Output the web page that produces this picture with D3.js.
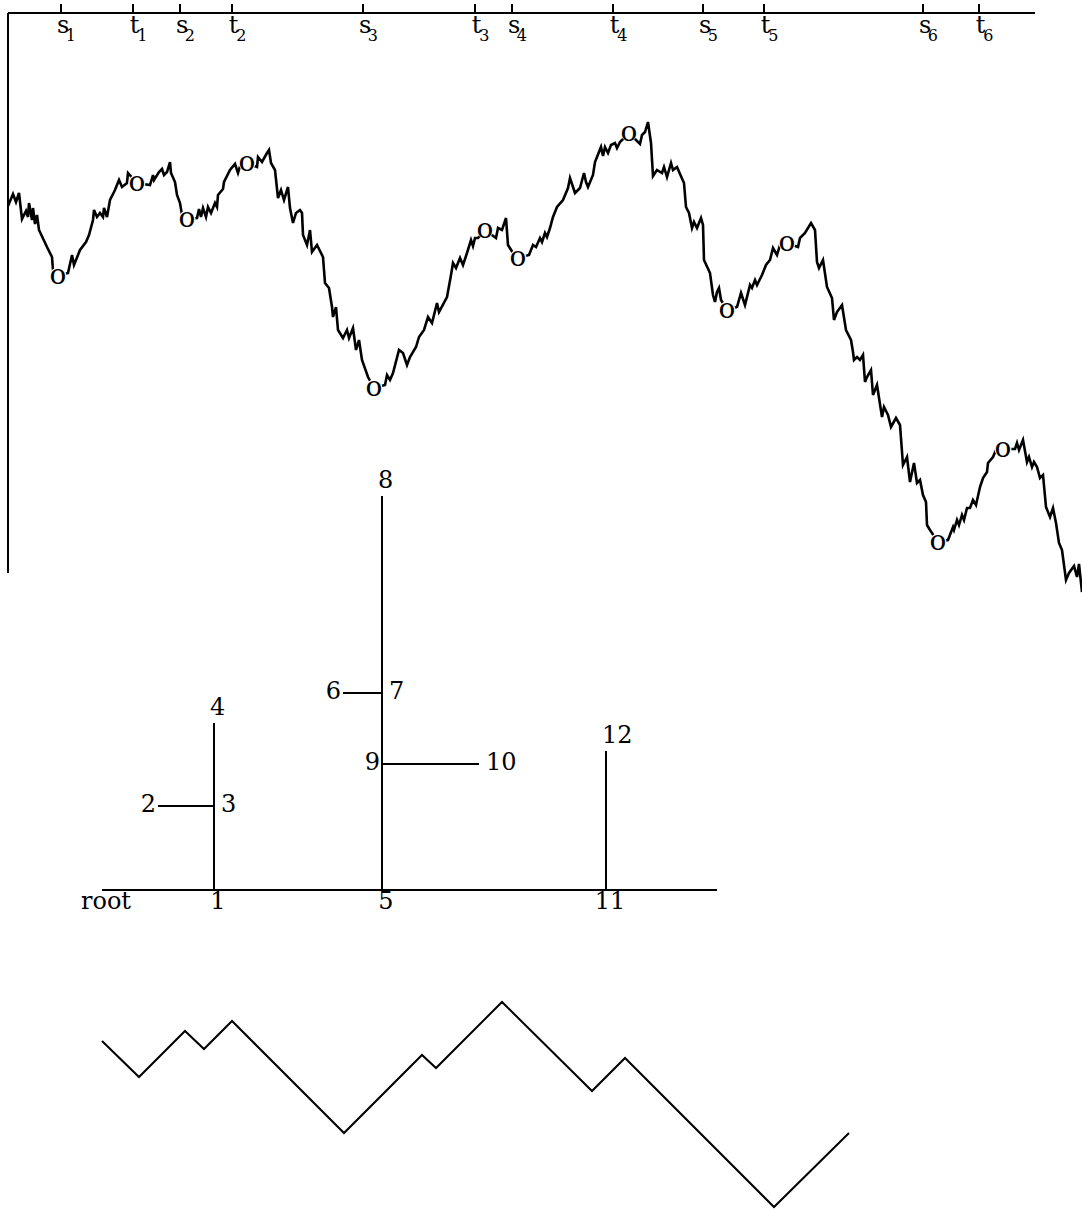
<!DOCTYPE html>
<html>
<head>
<meta charset="utf-8">
<script src="https://cdn.jsdelivr.net/npm/d3@7"></script>
<style>
  body { margin: 0; background: #fff; }
  svg text { font-family: "DejaVu Serif", serif; fill: #000; }
</style>
</head>
<body>
<div id="chart"></div>
<script>
// ---- Brownian-like path: time and value readings
const walkT = [0,5,8,11,14,18,20,21,24,25,27,29,31,39,44,45,50,60,64,66,72,78,81,85,86,89,92,95,96,99,
  102,107,111,114,119,120,129,142,145,146,151,154,156,159,162,163,167,169,172,174,179,189,191,193,195,198,200,203,207,209,
  210,215,216,222,227,230,233,239,249,250,254,259,261,263,267,270,273,276,280,282,285,288,292,294,295,299,302,304,309,315,
  317,321,324,325,328,330,335,339,341,345,348,351,354,360,366,377,379,382,385,391,395,399,402,408,411,416,420,424,429,431,
  439,443,445,448,452,455,459,463,465,467,470,477,488,490,494,498,500,505,510,521,525,528,532,534,537,539,542,545,549,555,
  560,562,567,572,576,578,580,585,587,589,593,595,597,600,603,607,609,612,621,632,634,637,640,643,645,649,654,656,659,663,
  665,669,672,676,678,681,684,686,689,693,695,696,702,705,707,709,711,713,719,729,733,737,742,744,747,749,754,758,762,765,
  769,772,779,790,792,797,803,807,809,811,815,819,824,826,829,834,838,843,845,846,849,852,855,857,859,863,865,869,874,876,
  880,883,888,892,895,899,902,906,909,912,915,918,919,922,930,940,945,946,949,951,954,956,959,962,965,968,972,975,979,980,
  985,988,995,1007,1009,1011,1015,1019,1021,1024,1026,1029,1032,1035,1038,1042,1045,1048,1051,1054,1058,1061,1066,1069,1071,1074];
const walkB = [394,406,398,407,381,389,383,397,380,392,376,385,370,353,343,330,324,327,345,335,350,358,365,380,390,383,387,383,392,383,
  400,410,420,413,417,427,417,415,425,420,428,431,425,428,438,427,418,405,397,385,381,382,391,383,392,383,393,387,397,393,
  405,411,418,430,436,427,437,437,433,443,438,447,450,437,430,402,410,400,413,392,377,387,390,387,365,355,370,348,355,343,
  317,312,293,283,293,270,262,270,262,272,250,260,240,223,212,215,225,220,227,250,247,235,243,253,263,270,283,277,297,288,
  303,325,337,332,342,335,347,360,354,362,362,370,362,372,370,382,355,347,342,345,355,353,362,358,367,363,372,383,393,400,
  412,422,407,412,427,418,413,425,438,443,453,444,453,447,455,457,452,458,467,456,465,468,478,457,424,430,427,433,423,437,
  430,433,426,417,393,387,372,378,372,382,375,340,327,305,298,308,312,300,290,293,307,295,315,312,320,315,325,335,340,352,
  345,355,357,353,362,367,377,370,338,332,340,313,302,280,288,295,270,260,248,240,243,240,245,218,223,230,205,215,183,193,
  185,173,182,175,135,143,118,137,117,120,105,98,75,70,58,60,73,70,80,75,85,80,92,92,100,95,113,122,128,137,
  143,150,151,151,157,150,160,138,143,133,138,133,122,125,93,83,92,77,57,50,20,27,34,23,36,8];

// ---- marked extremes s_i (minima) and t_i (maxima) on the path
const markerT = [50,129,179,239,366,477,510,621,719,779,930,995];

// ---- top time axis
const tickNames = ["s","t","s","t","s","t","s","t","s","t","s","t"];
const tickSubs  = ["1","1","2","2","3","3","4","4","5","5","6","6"];
const tickTimes = [53,125,172,224,355,467,504,605,695,756,915,971];

// ---- tree
const nodeNames = ["root","1","2","3","4","5","6","7","8","9","10","11","12",""];
const nodePos   = [0,112,56,112,112,280,241,280,280,280,377,504,504,615];
const nodeH     = [0,0,84,84,167,0,197,197,394,126,126,0,139,0];
const nodeSide  = ["below","below","left","right","above","below","left","right","above","left","right","below","above","none"];
const treeEdges = [["root",""],["1","4"],["2","3"],["5","8"],["6","7"],["9","10"],["11","12"]];

// ---- contour (zigzag) vertices
const contourT = [0,37,83,102,130,242,320,334,400,490,523,672,747];
const contourH = [169,133,179,161,189,77,155,142,208,119,152,3,77];

function draw() {
    const width = 1082, height = 1211;

    const svg = d3.select("#chart")
        .append("svg")
        .attr("width", width)
        .attr("height", height)
        .style("display", "block");

    // scales for the path
    const x = d3.scaleLinear().domain([0, 1074]).range([8, 1082]);
    const y = d3.scaleLinear().domain([0, 587]).range([600, 13]);

    // top axis: ticks point up, labels sit below the line
    const xAxisScale = x.copy().domain([0, 1027]).range([x(0), x(1027)]);
    const topAxis = svg.append("g")
        .attr("transform", `translate(0, ${y(587)})`)
        .call(d3.axisBottom(xAxisScale)
            .tickValues(tickTimes)
            .tickSizeInner(-9)
            .tickSizeOuter(0)
            .offset(0)
            .tickFormat(""));
    topAxis.select(".domain").attr("stroke", "#000").attr("stroke-width", 2);
    topAxis.selectAll(".tick line").attr("stroke", "#000").attr("stroke-width", 2);
    topAxis.selectAll(".tick text").remove();

    // letter start and subscript shift, so that letter + index read as one label
    const shift = { s: [-4, -3.5], t: [-3.3, -2] };
    topAxis.selectAll(".tick").each(function (d, i) {
        const name = tickNames[i];
        const label = d3.select(this).append("text")
            .attr("x", shift[name][0]).attr("y", 20)
            .attr("text-anchor", "start")
            .style("font-size", "24px");
        label.append("tspan").text(name);
        label.append("tspan")
            .attr("dx", shift[name][1])
            .attr("dy", 8)
            .style("font-size", "16px")
            .text(tickSubs[i]);
    });

    // left vertical line
    const yAxisScale = y.copy().domain([27, 587]).range([y(27), y(587)]);
    const leftAxis = svg.append("g")
        .attr("transform", `translate(${x(0)}, 0)`)
        .call(d3.axisLeft(yAxisScale).tickValues([]).tickSizeOuter(0).offset(0));
    leftAxis.select(".domain").attr("stroke", "#000").attr("stroke-width", 2);

    // the path
    const walk = walkT.map((t, i) => ({ t: t, b: walkB[i] }));
    svg.append("path")
        .datum(walk)
        .attr("fill", "none")
        .attr("stroke", "#000")
        .attr("stroke-width", 2.6)
        .attr("d", d3.line().x(d => x(d.t)).y(d => y(d.b)));

    // o markers at the extremes, on a white disc that hides the path beneath
    const markers = markerT.map(t => ({ t: t, b: walkB[walkT.indexOf(t)] }));
    const mark = svg.selectAll("g.marker")
        .data(markers)
        .join("g")
        .attr("class", "marker")
        .attr("transform", d => `translate(${x(d.t)}, ${y(d.b)})`);
    mark.append("circle")
        .attr("r", 8.5)
        .attr("fill", "#fff");
    mark.append("text")
        .attr("dy", "0.27em")
        .attr("text-anchor", "middle")
        .style("font-size", "28px")
        .text("o");

    // tree
    const tx = d3.scaleLinear().domain([0, 615]).range([102, 717]);
    const ty = d3.scaleLinear().domain([0, 394]).range([890, 496]);
    const nodes = nodeNames.map((n, i) => ({ name: n, pos: nodePos[i], h: nodeH[i], side: nodeSide[i] }));
    const byName = new Map(nodes.map(n => [n.name, n]));

    svg.selectAll("line.edge")
        .data(treeEdges)
        .join("line")
        .attr("class", "edge")
        .attr("x1", d => tx(byName.get(d[0]).pos))
        .attr("y1", d => ty(byName.get(d[0]).h))
        .attr("x2", d => tx(byName.get(d[1]).pos))
        .attr("y2", d => ty(byName.get(d[1]).h))
        .attr("stroke", "#000")
        .attr("stroke-width", 2);

    // label placement per side
    const place = {
        below: { dx: 4, dy: 19, anchor: "middle" },
        above: { dx: -4, dy: -8, anchor: "start" },
        left:  { dx: -2, dy: 6, anchor: "end" },
        right: { dx: 7, dy: 6, anchor: "start" }
    };
    svg.selectAll("text.node")
        .data(nodes.filter(n => n.side !== "none"))
        .join("text")
        .attr("class", "node")
        .attr("x", d => tx(d.pos) + place[d.side].dx)
        .attr("y", d => ty(d.h) + place[d.side].dy)
        .attr("text-anchor", d => place[d.side].anchor)
        .style("font-size", "24px")
        .text(d => d.name);

    // contour zigzag
    const cx = d3.scaleLinear().domain([0, 747]).range([102, 849]);
    const cy = d3.scaleLinear().domain([0, 210]).range([1210, 1000]);
    const contour = contourT.map((t, i) => ({ t: t, h: contourH[i] }));
    svg.append("path")
        .datum(contour)
        .attr("fill", "none")
        .attr("stroke", "#000")
        .attr("stroke-width", 2)
        .attr("d", d3.line().x(d => cx(d.t)).y(d => cy(d.h)));
}

draw();
</script>
</body>
</html>
